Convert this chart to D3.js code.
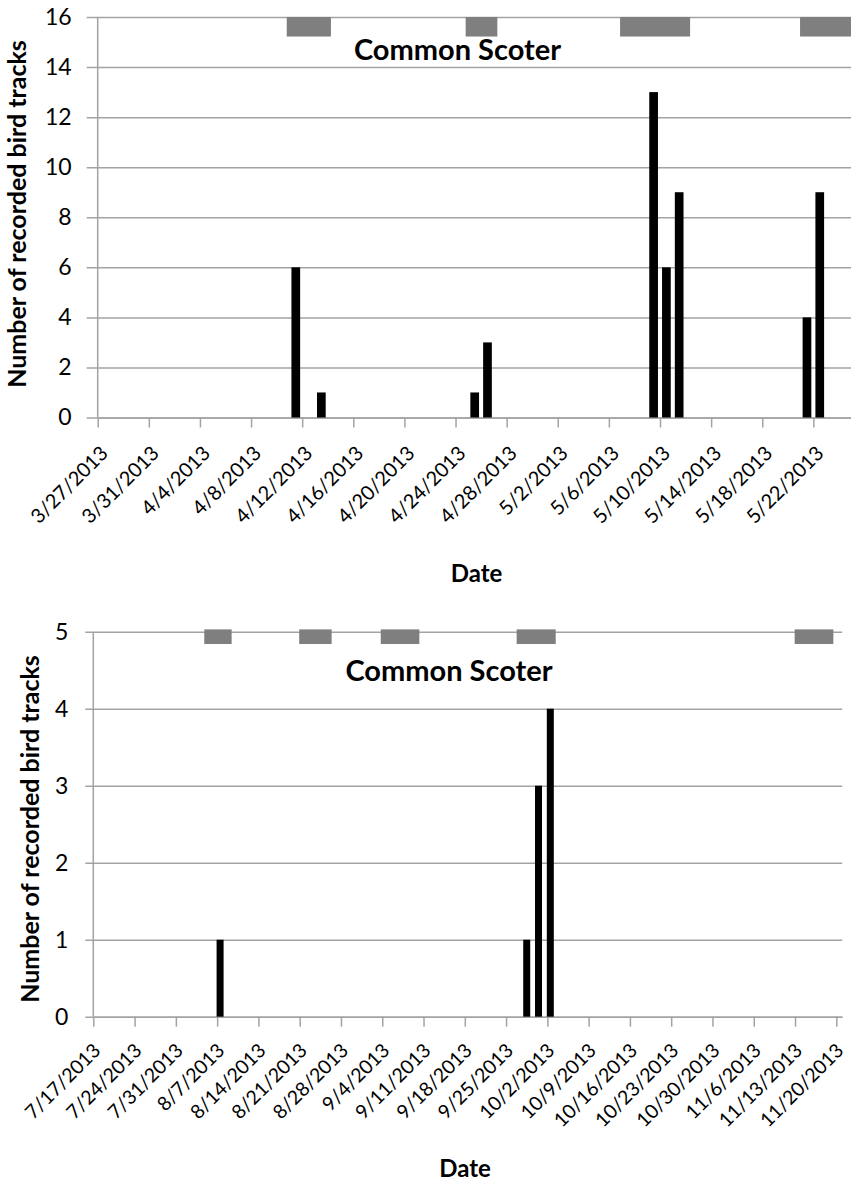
<!DOCTYPE html>
<html lang="en">
<head>
    <meta charset="UTF-8">
    <title>Common Scoter tracks</title>
    <script src="https://d3js.org/d3.v7.min.js"></script>
    <style>
        body { margin: 0; background: #fff; }
        svg { display: block; font-family: Lato, "Open Sans", sans-serif; }
        .tick text { fill: #000; font-family: Lato, "Open Sans", sans-serif; }
        .title { font-size: 29px; font-weight: bold; }
        .axis-title { font-size: 24px; font-weight: bold; }
        .y-title { font-size: 25px; font-weight: bold; }
    </style>
</head>
<body>
<div id="chart"></div>
<script>
// ---- data: spring survey (top panel) ----
const springDates = ["2013-04-11", "2013-04-13", "2013-04-25", "2013-04-26", "2013-05-09", "2013-05-10", "2013-05-11", "2013-05-21", "2013-05-22"];
const springCounts = [6, 1, 1, 3, 13, 6, 9, 4, 9];
const springTicks = ["2013-03-27", "2013-03-31", "2013-04-04", "2013-04-08", "2013-04-12", "2013-04-16", "2013-04-20", "2013-04-24", "2013-04-28", "2013-05-02", "2013-05-06", "2013-05-10", "2013-05-14", "2013-05-18", "2013-05-22"];
const springPeriods = [["2013-04-10T19:00", "2013-04-14T06:00"], ["2013-04-24T19:00", "2013-04-27T06:30"], ["2013-05-06T21:00", "2013-05-12T08:30"], ["2013-05-20T23:00", "2013-05-25T00:00"]];
const springYTicks = [0, 2, 4, 6, 8, 10, 12, 14, 16];

// ---- data: autumn survey (bottom panel) ----
const autumnDates = ["2013-08-07", "2013-09-28", "2013-09-30", "2013-10-02"];
const autumnCounts = [1, 1, 3, 4];
const autumnTicks = ["2013-07-17", "2013-07-24", "2013-07-31", "2013-08-07", "2013-08-14", "2013-08-21", "2013-08-28", "2013-09-04", "2013-09-11", "2013-09-18", "2013-09-25", "2013-10-02", "2013-10-09", "2013-10-16", "2013-10-23", "2013-10-30", "2013-11-06", "2013-11-13", "2013-11-20"];
const autumnPeriods = [["2013-08-04T19:40", "2013-08-09T11:00"], ["2013-08-20T22:00", "2013-08-26T10:00"], ["2013-09-03T18:00", "2013-09-10T07:00"], ["2013-09-26T19:00", "2013-10-03T10:00"], ["2013-11-12T22:30", "2013-11-19T12:00"]];
const autumnYTicks = [0, 1, 2, 3, 4, 5];

const parseDay = d3.utcParse("%Y-%m-%d");
const parseTime = d3.utcParse("%Y-%m-%dT%H:%M");
const fmt = d => (d.getUTCMonth() + 1) + "/" + d.getUTCDate() + "/" + d.getUTCFullYear();

const svg = d3.select("#chart").append("svg").attr("width", 851).attr("height", 1185);
const gridColor = "#a3a3a3";

function drawPanel(cfg) {
    const x = d3.scaleUtc().domain(cfg.domain.map(parseDay)).range([cfg.left, cfg.right]);
    const y = d3.scaleLinear().domain([0, d3.max(cfg.yTicks)]).range([cfg.bottom, cfg.top]);

    // gridlines + y labels
    const yAxis = svg.append("g")
        .attr("transform", `translate(${cfg.left - cfg.tickOut},0)`)
        .call(d3.axisLeft(y).tickValues(cfg.yTicks).tickFormat(d3.format("d"))
            .tickSize(-(cfg.right - cfg.left + cfg.tickOut)).tickPadding(cfg.yPad));
    yAxis.attr("font-family", null);
    yAxis.select(".domain").remove();
    yAxis.selectAll("line").attr("stroke", gridColor).attr("stroke-width", 1.5);
    yAxis.selectAll("text").style("font-size", "23px");

    // period boxes at top
    svg.append("g").selectAll("rect")
        .data(cfg.periods)
        .enter().append("rect")
        .attr("x", d => x(parseTime(d[0])))
        .attr("width", d => x(parseTime(d[1])) - x(parseTime(d[0])))
        .attr("y", y(cfg.boxBand[1]))
        .attr("height", y(cfg.boxBand[0]) - y(cfg.boxBand[1]))
        .attr("fill", "#7f7f7f");

    // vertical axis line
    svg.append("line")
        .attr("x1", cfg.left).attr("x2", cfg.left)
        .attr("y1", y(0)).attr("y2", y(d3.max(cfg.yTicks)))
        .attr("stroke", gridColor).attr("stroke-width", 1.5);

    // x axis
    const xAxis = svg.append("g")
        .attr("transform", `translate(0,${y(0)})`)
        .call(d3.axisBottom(x).tickValues(cfg.ticks.map(parseDay)).tickFormat(fmt).tickSize(10).tickSizeOuter(0));
    xAxis.attr("font-family", null);
    xAxis.select(".domain").attr("stroke", gridColor).attr("stroke-width", 1.5);
    xAxis.selectAll("line").attr("stroke", gridColor).attr("stroke-width", 1.5);
    xAxis.selectAll("text")
        .style("font-size", cfg.labSize)
        .attr("text-anchor", "end")
        .attr("transform", `translate(${cfg.labDx},${cfg.labDy}) rotate(-45)`)
        .attr("y", 0).attr("dy", 0);

    // bars, centred in the middle of each day
    svg.append("g").selectAll("rect")
        .data(cfg.dates.map((d, i) => [parseDay(d), cfg.counts[i]]))
        .enter().append("rect")
        .attr("x", d => x(d3.utcHour.offset(d[0], 12)) - cfg.barW / 2)
        .attr("width", cfg.barW)
        .attr("y", d => y(d[1]))
        .attr("height", d => y(0) - y(d[1]))
        .attr("fill", "#000");

    svg.append("text").attr("class", "title").attr("text-anchor", "middle")
        .attr("x", cfg.titleX).attr("y", cfg.titleY).text("Common Scoter");
    svg.append("text").attr("class", "axis-title").attr("text-anchor", "middle")
        .attr("x", cfg.dateX).attr("y", cfg.dateY).text("Date");
    svg.append("text").attr("class", "y-title").attr("text-anchor", "middle")
        .attr("transform", `translate(${cfg.yLabX},${cfg.yLabY}) rotate(-90)`)
        .text("Number of recorded bird tracks");
}

drawPanel({
    dates: springDates, counts: springCounts, ticks: springTicks, periods: springPeriods, yTicks: springYTicks,
    domain: ["2013-03-27", "2013-05-25"], left: 97.7, right: 851.7, top: 17, bottom: 417.5,
    tickOut: 11, yPad: 15, boxBand: [15.22, 16], barW: 8.7, labSize: "20px", labDx: 11, labDy: 37,
    titleX: 457.5, titleY: 60, dateX: 476.5, dateY: 582, yLabX: 26, yLabY: 214
});

drawPanel({
    dates: autumnDates, counts: autumnCounts, ticks: autumnTicks, periods: autumnPeriods, yTicks: autumnYTicks,
    domain: ["2013-07-17", "2013-11-21"], left: 93.3, right: 842.2, top: 631.7, bottom: 1016.7,
    tickOut: 8, yPad: 17, boxBand: [4.84, 5.03], barW: 7, labSize: "19.5px", labDx: 8, labDy: 35,
    titleX: 449, titleY: 681, dateX: 465, dateY: 1177, yLabX: 39, yLabY: 829
});
</script>
</body>
</html>
